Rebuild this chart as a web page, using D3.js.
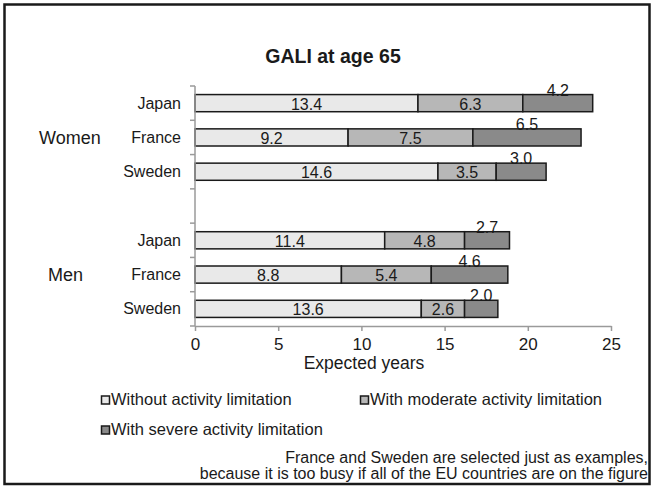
<!DOCTYPE html>
<html>
<head>
<meta charset="utf-8">
<script src="https://cdn.jsdelivr.net/npm/d3@7"></script>
<style>
  html, body { margin: 0; padding: 0; background: #fff; }
  svg text { font-family: "Liberation Sans", Arial, sans-serif; fill: #1a1a1a; }
</style>
</head>
<body>
<svg id="chart" width="652" height="490"></svg>
<script>
// Rows from top to bottom; the empty row separates the two groups.
const rows = ["Women|Japan", "Women|France", "Women|Sweden", "gap", "Men|Japan", "Men|France", "Men|Sweden"];
const countries = ["Japan", "France", "Sweden", "", "Japan", "France", "Sweden"];
const groups = ["Women", "Men"];
const series = ["Without activity limitation", "With moderate activity limitation", "With severe activity limitation"];

// Expected years at age 65, by row
const withoutLimitation = [13.4, 9.2, 14.6, null, 11.4, 8.8, 13.6];
const moderateLimitation = [6.3, 7.5, 3.5, null, 4.8, 5.4, 2.6];
const severeLimitation = [4.2, 6.5, 3.0, null, 2.7, 4.6, 2.0];

const xTicks = [0, 5, 10, 15, 20, 25];
const fills = ["#e9e9e9", "#b7b7b7", "#8a8a8a"];

const svg = d3.select("#chart");

// page frame
svg.append("rect").attr("x", 0).attr("y", 0).attr("width", 652).attr("height", 490).attr("fill", "#fff");
svg.append("rect")
  .attr("x", 4.5).attr("y", 4.5).attr("width", 645).attr("height", 479.5)
  .attr("fill", "none").attr("stroke", "#1a1a1a").attr("stroke-width", 2.5);

const x = d3.scaleLinear().domain([0, 25]).range([195, 611]);
const y = d3.scaleBand().domain(rows).range([86, 326]).paddingInner(0.5).paddingOuter(0.25);

// title
svg.append("text")
  .attr("x", 333).attr("y", 63)
  .attr("text-anchor", "middle")
  .style("font-size", "19.5px").style("font-weight", "bold")
  .text("GALI at age 65");

// stacked data
const table = rows.map((r, i) => ({
  row: r,
  country: countries[i],
  values: [withoutLimitation[i], moderateLimitation[i], severeLimitation[i]]
})).filter(d => d.values[0] !== null);

const segs = [];
table.forEach(d => {
  let acc = 0;
  d.values.forEach((v, k) => {
    segs.push({ row: d.row, k, v, x0: acc, x1: acc + v });
    acc += v;
  });
});

// bars
svg.append("g").selectAll("rect").data(segs).join("rect")
  .attr("x", d => x(d.x0))
  .attr("y", d => y(d.row))
  .attr("width", d => x(d.x1) - x(d.x0))
  .attr("height", y.bandwidth())
  .attr("fill", d => fills[d.k])
  .attr("stroke", "#1a1a1a")
  .attr("stroke-width", 1.5);

// value labels: inside for the first two segments, above the bar for the last
svg.append("g").selectAll("text").data(segs).join("text")
  .attr("x", d => x((d.x0 + d.x1) / 2))
  .attr("y", d => d.k < 2 ? y(d.row) + y.bandwidth() / 2 + 1 : y(d.row) + 1)
  .attr("dy", d => d.k < 2 ? "0.35em" : "0")
  .attr("text-anchor", "middle")
  .style("font-size", "16px")
  .text(d => d3.format(".1f")(d.v));

// y axis: line with ticks at row boundaries
const axisColor = "#9a9a9a";
const yAxis = svg.append("g");
const yTop = y.range()[0], yBot = y.range()[1];
yAxis.append("line")
  .attr("x1", x(0)).attr("x2", x(0)).attr("y1", yTop).attr("y2", yBot)
  .attr("stroke", axisColor).attr("stroke-width", 1.5);
yAxis.selectAll("line.tick").data(d3.range(rows.length + 1)).join("line")
  .attr("class", "tick")
  .attr("x1", x(0) - 5).attr("x2", x(0))
  .attr("y1", i => yTop + i * y.step()).attr("y2", i => yTop + i * y.step())
  .attr("stroke", axisColor).attr("stroke-width", 1.5);

// country labels
svg.append("g").selectAll("text").data(rows.map((r, i) => ({ r, c: countries[i] })).filter(d => d.c))
  .join("text")
  .attr("x", 181)
  .attr("y", d => y(d.r) + y.bandwidth() / 2)
  .attr("dy", "0.35em")
  .attr("text-anchor", "end")
  .style("font-size", "16px")
  .text(d => d.c);

// group labels
const groupRow = { Women: "Women|France", Men: "Men|France" };
const groupX = { Women: 39, Men: 48 };
svg.append("g").selectAll("text").data(groups).join("text")
  .attr("x", g => groupX[g])
  .attr("y", g => y(groupRow[g]) + y.bandwidth() / 2)
  .attr("dy", "0.35em")
  .style("font-size", "18px")
  .text(g => g);

// x axis
const xAxis = svg.append("g")
  .attr("transform", `translate(0,${yBot})`)
  .call(d3.axisBottom(x).tickValues(xTicks).tickSize(5).tickSizeOuter(0).tickPadding(7).tickFormat(d3.format("d")));
xAxis.select(".domain").attr("stroke", axisColor).attr("stroke-width", 1.5);
xAxis.selectAll(".tick line").attr("stroke", axisColor).attr("stroke-width", 1.5);
xAxis.selectAll(".tick text")
  .style("font-family", "Liberation Sans, Arial, sans-serif")
  .style("font-size", "17px").attr("fill", "#1a1a1a");

svg.append("text")
  .attr("x", 364).attr("y", 369)
  .attr("text-anchor", "middle")
  .style("font-size", "17.5px")
  .text("Expected years");

// legend
const legendPos = [[101, 405], [360, 405], [101, 435]];
const legend = svg.append("g").selectAll("g").data(series).join("g")
  .attr("transform", (d, i) => `translate(${legendPos[i][0]},${legendPos[i][1]})`);
legend.append("rect")
  .attr("x", 0.5).attr("y", -9).attr("width", 8).attr("height", 8)
  .attr("fill", (d, i) => fills[i])
  .attr("stroke", "#1a1a1a").attr("stroke-width", 1.5);
legend.append("text")
  .attr("x", 10).attr("y", 0)
  .style("font-size", "16.5px")
  .text(d => d);

// footnote
const notes = [
  "France and Sweden are selected just as examples,",
  "because it is too busy if all of the EU countries are on the figure"
];
svg.append("g").selectAll("text").data(notes).join("text")
  .attr("x", 648).attr("y", (d, i) => 463 + i * 16)
  .attr("text-anchor", "end")
  .style("font-size", "16px")
  .text(d => d);
</script>
</body>
</html>
